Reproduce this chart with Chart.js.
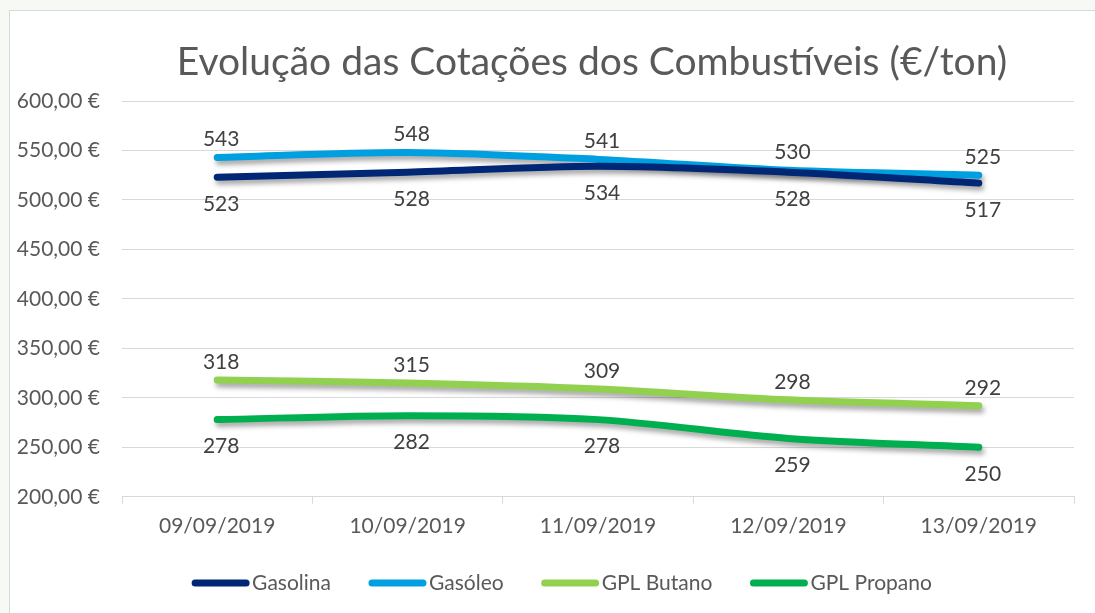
<!DOCTYPE html>
<html>
<head>
<meta charset="utf-8">
<script src="https://cdn.jsdelivr.net/npm/chart.js@4"></script>
<style>
  html, body { margin: 0; padding: 0; background: #f7f9f4; }
  #wrap { position: absolute; left: 0; top: 0; width: 1095px; height: 613px; }
  #box { position: absolute; left: 9px; top: 10px; width: 1100px; height: 620px;
         background: #ffffff; border: 1px solid #d9d9d9; box-sizing: border-box; }
  canvas { position: absolute; left: 0; top: 0; }
</style>
</head>
<body>
<div id="wrap">
  <div id="box"></div>
  <canvas id="chart" width="1095" height="613"></canvas>
</div>
<script>
(function() {
  'use strict';

  // Chart data
  const chartTitle = 'Evolução das Cotações dos Combustíveis (€/ton)';
  const dates = ['09/09/2019', '10/09/2019', '11/09/2019', '12/09/2019', '13/09/2019'];
  const gasolina = [523, 528, 534, 528, 517];
  const gasoleo = [543, 548, 541, 530, 525];
  const gplButano = [318, 315, 309, 298, 292];
  const gplPropano = [278, 282, 278, 259, 250];

  const FONT = 'Lato, "Open Sans", sans-serif';
  const TEXT = '#595959';

  // label side per series: -1 above, +1 below
  const series = [
    { label: 'Gasolina', data: gasolina, color: '#002776', side: 1 },
    { label: 'Gasóleo', data: gasoleo, color: '#00a0e0', side: -1 },
    { label: 'GPL Butano', data: gplButano, color: '#92d050', side: -1 },
    { label: 'GPL Propano', data: gplPropano, color: '#00b050', side: 1 }
  ];

  // Soft shadow under each line, like the Excel original
  const shadowPlugin = {
    id: 'lineShadow',
    beforeDatasetDraw(chart) {
      const ctx = chart.ctx;
      ctx.save();
      ctx.shadowColor = 'rgba(0,0,0,0.35)';
      ctx.shadowBlur = 5;
      ctx.shadowOffsetX = 2;
      ctx.shadowOffsetY = 4;
    },
    afterDatasetDraw(chart) {
      chart.ctx.restore();
    }
  };

  // Title, data labels and legend drawn by hand
  const decorPlugin = {
    id: 'decor',
    afterDraw(chart) {
      const ctx = chart.ctx;
      ctx.save();

      // title
      ctx.fillStyle = TEXT;
      ctx.font = '39px ' + FONT;
      ctx.textAlign = 'center';
      ctx.textBaseline = 'middle';
      ctx.fillText(chartTitle, 592, 62);

      // data labels
      ctx.font = '21px ' + FONT;
      ctx.fillStyle = '#404040';
      chart.data.datasets.forEach((ds, i) => {
        const meta = chart.getDatasetMeta(i);
        meta.data.forEach((pt, j) => {
          const dy = ds.side < 0 ? -18 : 27;
          ctx.fillText(String(ds.data[j]), pt.x + 4, pt.y + dy);
        });
      });

      // legend
      ctx.font = '21px ' + FONT;
      ctx.textAlign = 'left';
      const swatch = 57, gap = 3, spacing = 38;
      const widths = series.map(s => swatch + gap + ctx.measureText(s.label).width);
      const total = widths.reduce((a, b) => a + b, 0) + spacing * (series.length - 1);
      let x = 562 - total / 2;
      const y = 583;
      series.forEach((s, i) => {
        ctx.strokeStyle = s.color;
        ctx.lineWidth = 7;
        ctx.lineCap = 'round';
        ctx.beginPath();
        ctx.moveTo(x + 3, y);
        ctx.lineTo(x + swatch - 3, y);
        ctx.stroke();
        ctx.fillStyle = TEXT;
        ctx.fillText(s.label, x + swatch + gap, y);
        x += widths[i] + spacing;
      });

      ctx.restore();
    }
  };

  const ctx = document.getElementById('chart');
  new Chart(ctx, {
    type: 'line',
    data: {
      labels: dates,
      datasets: series.map(s => ({
        label: s.label,
        data: s.data,
        side: s.side,
        borderColor: s.color,
        backgroundColor: s.color,
        borderWidth: 7,
        borderCapStyle: 'round',
        pointRadius: 0,
        pointHoverRadius: 0,
        tension: 0.3,
        fill: false
      }))
    },
    options: {
      responsive: false,
      animation: false,
      layout: { padding: { top: 101, right: 21, bottom: 64, left: 0 } },
      plugins: {
        legend: { display: false },
        title: { display: false },
        tooltip: { enabled: false }
      },
      scales: {
        x: {
          offset: true,
          grid: {
            offset: true,
            drawOnChartArea: false,
            drawTicks: true,
            tickLength: 7,
            color: '#d9d9d9'
          },
          border: { color: '#d9d9d9', width: 1 },
          ticks: { color: TEXT, font: { family: FONT, size: 21 }, padding: 10 }
        },
        y: {
          min: 200,
          max: 600,
          afterFit(scale) { scale.width = 122; },
          grid: { color: '#d9d9d9', drawTicks: false },
          border: { display: false },
          ticks: {
            stepSize: 50,
            padding: 22,
            color: TEXT,
            font: { family: FONT, size: 21 },
            callback: v => v.toFixed(2).replace('.', ',') + ' €'
          }
        }
      }
    },
    plugins: [shadowPlugin, decorPlugin]
  });
})();
</script>
</body>
</html>
